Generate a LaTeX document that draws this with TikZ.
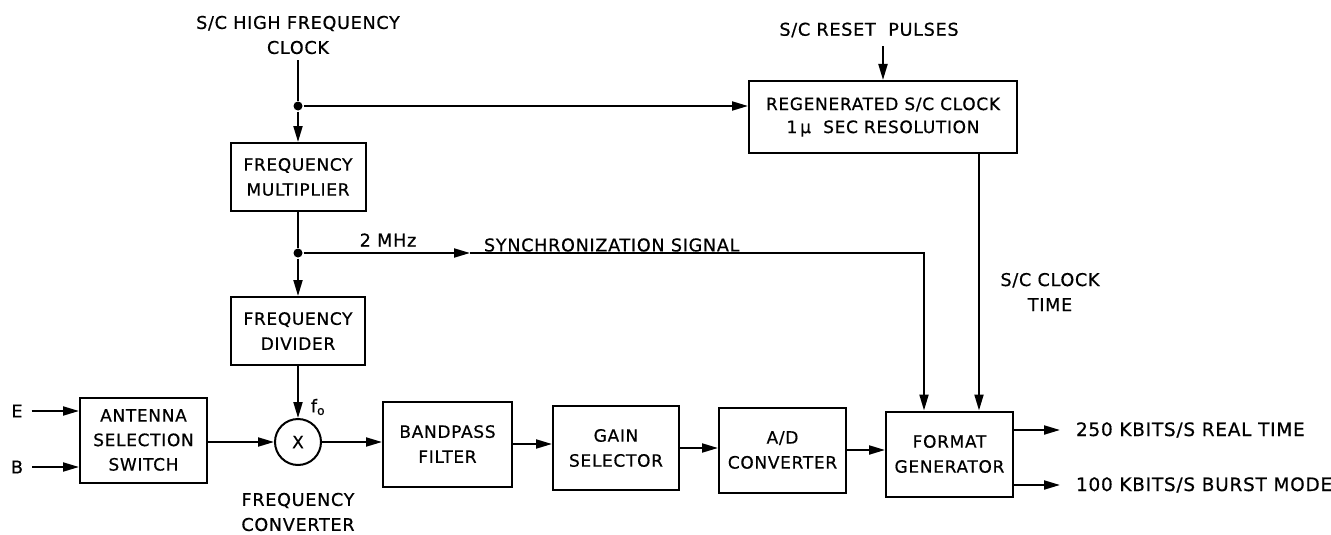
\documentclass[tikz,border=0pt]{standalone}
\usepackage{fontspec}
\setmainfont[LetterSpace=4,FakeBold=0.6]{DejaVu Sans}
\usetikzlibrary{arrows.meta,positioning,calc}
\begin{document}
\begin{tikzpicture}[x=1pt,y=-1pt,
  font=\fontsize{17}{25}\selectfont,
  line width=2pt,
  arr/.style={-{Triangle[length=16pt,width=9pt]}},
  blk/.style={draw,line width=2pt,rectangle,align=center,inner sep=0pt},
  lbl/.style={inner sep=0pt,align=center,font=\fontsize{17.6}{25}\selectfont},
  outlbl/.style={inner sep=0pt,anchor=west,font=\fontsize{18.5}{25}\selectfont},
  dot/.style={circle,fill,inner sep=0pt,minimum size=9pt}]
\useasboundingbox (0,0) rectangle (1331,535);

% blocks
\node[blk,minimum width=135,minimum height=68] (mult) at (298,177) {FREQUENCY\\MULTIPLIER};
\node[blk,minimum width=134,minimum height=68] (div) at (298,331) {FREQUENCY\\DIVIDER};
\node[blk,minimum width=127,minimum height=85,font=\fontsize{17}{24.5}\selectfont] (ant) at (143.5,440) {ANTENNA\\SELECTION\\SWITCH};
\node[draw,circle,line width=2pt,minimum size=46pt,inner sep=0pt] (mix) at (298,442) {X};
\node[blk,minimum width=129,minimum height=85] (bp) at (447.5,444) {BANDPASS\\FILTER};
\node[blk,minimum width=126,minimum height=84] (gain) at (616,448) {GAIN\\SELECTOR};
\node[blk,minimum width=127,minimum height=85] (ad) at (782.5,450) {A/D\\CONVERTER};
\node[blk,minimum width=127,minimum height=85] (fmt) at (949.5,454) {FORMAT\\GENERATOR};
\node[blk,minimum width=268,minimum height=72,font=\fontsize{17}{23}\selectfont] (regen) at (883,117) {REGENERATED S/C CLOCK\\1\,μ\ \ SEC RESOLUTION};

% labels
\node[lbl] (hfc) at (298,35) {S/C HIGH FREQUENCY\\CLOCK};
\node[lbl] (reset) at (869,30) {S/C RESET\ \ PULSES};
\node[lbl] (mhz) at (388,240) {2 MHz};
\node[lbl,anchor=west] (sync) at (483,245) {SYNCHRONIZATION SIGNAL};
\node[lbl] (clk) at (1050,292) {S/C CLOCK\\TIME};
\node[lbl] (conv) at (298,512) {FREQUENCY\\CONVERTER};
\node[lbl] (fo) at (318,407) {f\textsubscript{o}};
\node[outlbl] (o1) at (1075,430) {250 KBITS/S REAL TIME};
\node[outlbl] (o2) at (1075,485) {100 KBITS/S BURST MODE};
\node[lbl] (E) at (17,411) {E};
\node[lbl] (B) at (17,467) {B};

% junctions
\node[dot] (j1) at (298,106) {};
\node[dot] (j2) at (298,253) {};
\coordinate (sm) at (470,253);
\coordinate (sc) at (924,253);

% connectors
\draw ([yshift=-5]hfc.south) -- (j1);
\draw[arr] (j1) -- (mult.north);
\draw[arr] (j1) -- (regen.west |- j1);
\draw[arr] (regen.north |- reset.south) ++(0,8) -- (regen.north);
\draw (mult.south) -- (j2);
\draw[arr] (j2) -- (div.north);
\draw[arr] (j2) -- (sm);
\draw[arr] (sm) -- (sc) -- (sc |- fmt.north);
\draw[arr] ([xshift=96]regen.south) -- ([xshift=96]regen.south |- fmt.north);
\draw[arr] (div.south) -- (mix.north);
\draw[arr] ([xshift=8]E.east) -- (ant.west |- E);
\draw[arr] ([xshift=8]B.east) -- (ant.west |- B);
\draw[arr] (ant.east |- mix) -- (mix.west);
\draw[arr] (mix.east) -- (mix.east -| bp.west);
\draw[arr] (bp.east) -- (bp.east -| gain.west);
\draw[arr] (gain.east) -- (gain.east -| ad.west);
\draw[arr] (ad.east) -- (ad.east -| fmt.west);
\draw[arr] (fmt.east |- o1) -- ([xshift=-15]o1.west);
\draw[arr] (fmt.east |- o2) -- ([xshift=-15]o2.west);
\end{tikzpicture}
\end{document}
